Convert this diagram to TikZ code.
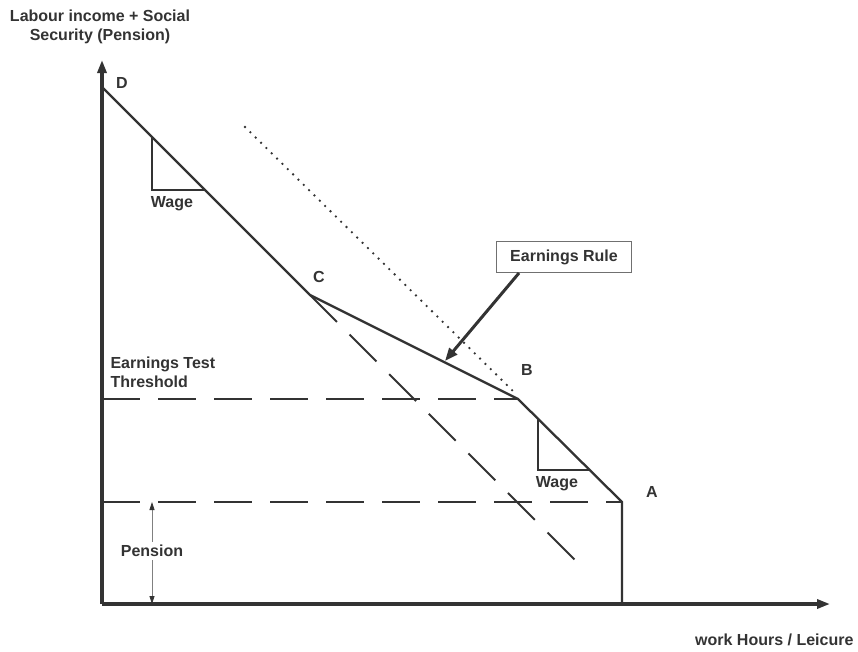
\documentclass[tikz,border=0pt]{standalone}
\usepackage{fontspec}
\setmainfont{Liberation Sans}
\usetikzlibrary{arrows.meta,positioning}
\definecolor{ink}{HTML}{333333}
\begin{document}
\begin{tikzpicture}[x=1pt, y=-1pt, line join=miter,
    lbl/.style={font=\bfseries\fontsize{16}{19}\selectfont, text=ink},
    budget/.style={draw=ink, line width=2.3pt},
    guide/.style={draw=ink, line width=2.1pt, dash pattern=on 38pt off 18pt},
    axis/.style={draw=ink, line width=3.2pt, -{Triangle[length=13pt,width=9pt]}}]

                \useasboundingbox (0,0) rectangle (858,651);

                % axes
                \coordinate (O) at (102,604);
                \coordinate (ytop) at (102,60);
                \coordinate (xend) at (830,604);
                \draw[axis] (O) -- (ytop);
                \draw[axis] (O) -- (xend);
                \node[lbl, align=center] (ytitle) at (100,27) {Labour income + Social\\Security (Pension)};
                \node[lbl, anchor=east] (xtitle) at (857,640) {work Hours / Leicure};

                % kinks of the budget line
                \coordinate (D) at (102,87);
                \coordinate (C) at (310,295);
                \coordinate (B) at (518,399);
                \coordinate (A) at (622,502);
                \coordinate (Abot) at (622,604);
                \node[lbl] (labD) at (122,83) {D};
                \node[lbl] (labC) at (319,277) {C};
                \node[lbl] (labB) at (527,370) {B};
                \node[lbl] (labA) at (652,492) {A};

                % dashed guides
                \coordinate (thrL) at (102,399);
                \coordinate (penL) at (102,502);
                \coordinate (Cext) at (580,565);
                \draw[guide] (thrL) -- (B);
                \draw[guide] (penL) -- (A);
                \draw[guide] (C) -- (Cext);

                % dotted line without the rule
                \coordinate (dotTop) at (245,127);
                \coordinate (dotEnd) at (516,394);
                \draw[ink, line width=2.6pt, line cap=round, dash pattern=on 0pt off 7.5pt] (dotTop) -- (dotEnd);

                % budget line
                \draw[budget] (D) -- (C) -- (B) -- (A) -- (Abot);

                % wage triangles
                \coordinate (w1a) at (152,137);
                \coordinate (w1b) at (152,190);
                \coordinate (w1c) at (205,190);
                \draw[ink, line width=2.1pt] (w1a) -- (w1b) -- (w1c);
                \node[lbl] (wage1) at (172,204) {Wage};
                \coordinate (w2a) at (538,419);
                \coordinate (w2b) at (538,470);
                \coordinate (w2c) at (589,470);
                \draw[ink, line width=2.1pt] (w2a) -- (w2b) -- (w2c);
                \node[lbl] (wage2) at (557,484) {Wage};

                % labels
                \node[lbl, align=left, anchor=west] (thr) at (107,372) {Earnings Test\\Threshold};
                \node[lbl, draw=ink!70, line width=1pt, minimum width=135pt, minimum height=31pt, fill=white] (rule) at (564,257) {Earnings Rule};
                \coordinate (ruleTip) at (445,361);
                \draw[ink, line width=3pt, -{Triangle[length=13pt,width=10pt]}] (rule.south west) ++(23,0) coordinate (ruleFoot) -- (ruleTip);

                % pension
                \coordinate (penTop) at (152,502);
                \coordinate (penBot) at (152,604);
                \node[lbl, fill=white, inner xsep=1pt] (pen) at (152,551) {Pension};
                \draw[gray, line width=0.8pt, -{Triangle[length=8pt,width=5pt,color=ink]}] (pen.north) -- (penTop);
                \draw[gray, line width=0.8pt, -{Triangle[length=8pt,width=5pt,color=ink]}] (pen.south) -- (penBot);
            \end{tikzpicture}
\end{document}
